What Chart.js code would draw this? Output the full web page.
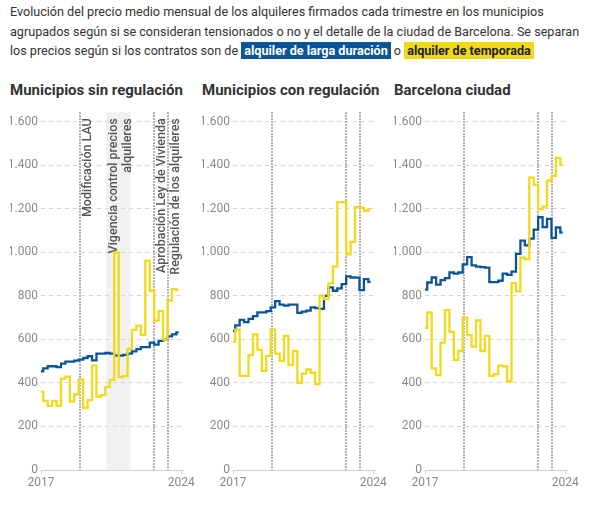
<!DOCTYPE html>
<html>
<head>
<meta charset="utf-8">
<script src="https://cdn.jsdelivr.net/npm/chart.js@4.4.1/dist/chart.umd.min.js"></script>
<style>
body{margin:0;background:#fff;font-family:Roboto,sans-serif;color:#333;}
#wrap{position:relative;width:593px;height:505px;overflow:hidden;}
.intro{position:absolute;left:10px;top:2px;width:580px;font-size:12.6px;line-height:19.5px;white-space:nowrap;}
.hl{font-weight:bold;padding:1px 3px;}
.blue{background:#0b5596;color:#fff;}
.yel{background:#efd91c;color:#222;}
.panel{position:absolute;top:78px;width:190px;height:422px;}
.panel h3{margin:0;font-size:15px;font-weight:bold;height:24px;line-height:24px;white-space:nowrap;color:#333;}
</style>
</head>
<body>
<div id="wrap">
  <div class="intro">
    Evolución del precio medio mensual de los alquileres firmados cada trimestre en los municipios<br>
    agrupados según si se consideran tensionados o no y el detalle de la ciudad de Barcelona. Se separan<br>
    los precios según si los contratos son de <span class="hl blue">alquiler de larga duración</span> o <span class="hl yel">alquiler de temporada</span>
  </div>
  <div class="panel" style="left:10px"><h3>Municipios sin regulación</h3><canvas id="chart1" width="190" height="398"></canvas></div>
  <div class="panel" style="left:202px"><h3>Municipios con regulación</h3><canvas id="chart2" width="190" height="398"></canvas></div>
  <div class="panel" style="left:394px"><h3>Barcelona ciudad</h3><canvas id="chart3" width="190" height="398"></canvas></div>
</div>
<script>
// quarters 2017T1 - 2024T4
var quarters = ['2017T1','2017T2','2017T3','2017T4','2018T1','2018T2','2018T3','2018T4',
  '2019T1','2019T2','2019T3','2019T4','2020T1','2020T2','2020T3','2020T4',
  '2021T1','2021T2','2021T3','2021T4','2022T1','2022T2','2022T3','2022T4',
  '2023T1','2023T2','2023T3','2023T4','2024T1','2024T2','2024T3','2024T4'];

// Municipios sin regulación
var larga1 = [454,467,477,477,473,489,498,498,503,507,515,523,504,535,535,538,535,526,526,529,535,545,556,565,565,586,576,594,601,614,624,633];
var temporada1 = [359,318,295,318,295,420,429,314,348,417,285,321,480,338,344,382,414,1000,427,432,557,644,664,621,962,824,687,730,600,779,832,827];
// Municipios con regulación
var larga2 = [639,665,690,680,695,707,725,725,730,748,776,760,756,760,760,722,728,733,748,744,741,801,840,824,835,855,890,885,884,827,878,865];
var temporada2 = [589,645,433,433,528,624,552,456,525,645,535,502,616,482,547,401,443,462,447,395,802,786,858,935,1232,1232,992,1049,1209,1205,1192,1200];
// Barcelona ciudad
var larga3 = [829,862,885,852,873,882,908,903,908,945,979,941,935,933,930,864,864,870,903,897,912,994,1055,1033,1064,1105,1162,1117,1155,1067,1115,1092];
var temporada3 = [653,724,467,436,586,735,635,506,547,699,620,567,688,547,617,433,441,480,476,408,859,821,976,968,1344,1312,1198,1211,1330,1352,1435,1403];

var yTicks = [0,200,400,600,800,1000,1200,1400,1600];
var xTickValues = [2017, 2024.9];
var xTickLabels = ['2017','2024'];

// fechas de los cambios normativos (año decimal)
var events = [2019.17, 2023.36, 2024.17];
var eventLabels = [['Modificación LAU'], ['Aprobación Ley de Vivienda'], ['Regulación de los alquileres']];
var band = [2020.68, 2022.05];
var bandLabel = ['Vigencia control precios', 'alquileres'];

var BLUE = '#0b5596';
var YELLOW = '#f0da1a';

Chart.defaults.font.family = 'Roboto';

function quarterX(q) {
    return parseInt(q.slice(0, 4)) + (parseInt(q.slice(5)) - 1) / 4;
}
function toPoints(values) {
    return values.map(function (v, i) { return { x: quarterX(quarters[i]), y: v }; });
}
function fmt(v) {
    if (v >= 1000) return Math.floor(v / 1000) + '.' + String(v % 1000).padStart(3, '0');
    return String(v);
}

var notesPlugin = {
    id: 'notes',
    beforeDraw: function (chart, args, opts) {
        if (!opts.band) return;
        var ctx = chart.ctx, a = chart.chartArea, x = chart.scales.x;
        var x0 = x.getPixelForValue(band[0]), x1 = x.getPixelForValue(band[1]);
        ctx.save();
        ctx.fillStyle = '#f1f1f1';
        ctx.fillRect(x0, a.top, x1 - x0, a.bottom - a.top);
        ctx.restore();
    },
    beforeDatasetsDraw: function (chart, args, opts) {
        var ctx = chart.ctx, a = chart.chartArea, x = chart.scales.x;
        ctx.save();
        ctx.strokeStyle = '#9a9a9a';
        ctx.lineWidth = 2;
        ctx.setLineDash([1.5, 1.5]);
        events.forEach(function (e) {
            var px = Math.round(x.getPixelForValue(e));
            ctx.beginPath();
            ctx.moveTo(px, a.top);
            ctx.lineTo(px, a.bottom);
            ctx.stroke();
        });
        ctx.setLineDash([]);
        if (opts.labels) {
            ctx.fillStyle = '#555';
            ctx.font = '500 12.5px Roboto';
            ctx.textAlign = 'right';
            ctx.textBaseline = 'middle';
            var drawLines = function (px, lines) {
                lines.forEach(function (t, i) {
                    ctx.save();
                    ctx.translate(px + i * 13.4, a.top + 6);
                    ctx.rotate(-Math.PI / 2);
                    ctx.fillText(t, 0, 0);
                    ctx.restore();
                });
            };
            events.forEach(function (e, i) {
                drawLines(x.getPixelForValue(e) + 8, eventLabels[i]);
            });
            drawLines(x.getPixelForValue(band[0]) + 8, bandLabel);
        }
        ctx.restore();
    }
};

function makeChart(id, larga, temporada, withBand) {
    var ctx = document.getElementById(id).getContext('2d');
    return new Chart(ctx, {
        type: 'line',
        data: {
            datasets: [
                { label: 'alquiler de temporada', data: toPoints(temporada), borderColor: YELLOW, borderWidth: 2.3, stepped: 'middle', pointRadius: 0 },
                { label: 'alquiler de larga duración', data: toPoints(larga), borderColor: BLUE, borderWidth: 2.3, stepped: 'middle', pointRadius: 0 }
            ]
        },
        plugins: [notesPlugin],
        options: {
            responsive: false,
            animation: false,
            layout: { padding: { top: 7, right: 17, left: 0, bottom: 0 } },
            plugins: {
                legend: { display: false },
                tooltip: { enabled: false },
                notes: { band: withBand, labels: withBand }
            },
            scales: {
                x: {
                    type: 'linear',
                    min: 2017,
                    max: 2025,
                    afterBuildTicks: function (scale) {
                        scale.ticks = xTickValues.map(function (v) { return { value: v }; });
                    },
                    afterFit: function (scale) { scale.height = 30; },
                    grid: { drawOnChartArea: false, drawTicks: true, tickLength: 4, color: '#cfcfcf' },
                    border: { display: true, color: '#cfcfcf', width: 1 },
                    ticks: {
                        color: '#8a8a8a',
                        font: { size: 12 },
                        padding: 2,
                        maxRotation: 0,
                        autoSkip: false,
                        callback: function (v, i) { return xTickLabels[i]; }
                    }
                },
                y: {
                    min: 0,
                    max: 1645,
                    afterBuildTicks: function (scale) {
                        scale.ticks = yTicks.map(function (v) { return { value: v }; });
                    },
                    afterFit: function (scale) { scale.width = 31; },
                    grid: { color: '#d6d6d6', drawTicks: false },
                    border: { display: false, dash: [4, 4] },
                    ticks: {
                        color: '#8a8a8a',
                        font: { size: 12 },
                        padding: 3,
                        callback: function (v) { return fmt(v); }
                    }
                }
            }
        }
    });
}

var chart1 = makeChart('chart1', larga1, temporada1, true);
var chart2 = makeChart('chart2', larga2, temporada2, false);
var chart3 = makeChart('chart3', larga3, temporada3, false);
</script>
</body>
</html>
